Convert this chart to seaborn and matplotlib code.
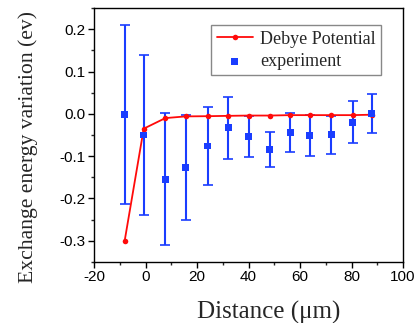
import matplotlib
matplotlib.use("Agg")
import matplotlib.pyplot as plt
import seaborn as sns
import pandas as pd
from matplotlib.ticker import MultipleLocator

distance = [-8.1, -0.7, 7.7, 15.6, 24.2, 32.1, 40.0, 48.2, 56.1, 63.8, 72.1, 80.4, 87.8]
debye = [-0.300, -0.035, -0.010, -0.006, -0.0055, -0.0047, -0.004, -0.004, -0.003, -0.003, -0.003, -0.003, -0.002]
experiment = [-0.002, -0.050, -0.155, -0.126, -0.076, -0.033, -0.054, -0.084, -0.045, -0.051, -0.049, -0.020, 0.001]
exp_err = [0.212, 0.188, 0.156, 0.124, 0.092, 0.073, 0.049, 0.042, 0.046, 0.049, 0.045, 0.050, 0.047]

df = pd.DataFrame({"distance": distance, "debye": debye,
                   "experiment": experiment, "err": exp_err})

sns.set_theme(style="white")
plt.rcParams['font.family'] = ['Liberation Sans', 'DejaVu Sans']

fig = plt.figure(figsize=(4.16, 3.23), dpi=100)
ax = fig.add_axes([0.226, 0.189, 0.743, 0.786])

red = "#ff0a0a"
blue = "#1a3dff"

ax.errorbar(df["distance"], df["experiment"], yerr=df["err"], fmt="none",
            ecolor=blue, elinewidth=1.5, capsize=3.6, capthick=1.2, zorder=2)
sns.lineplot(data=df, x="distance", y="debye", ax=ax, color=red, lw=1.3,
             marker="o", markersize=4, markeredgewidth=0, label="Debye Potential",
             zorder=3)
sns.scatterplot(data=df, x="distance", y="experiment", ax=ax, color=blue,
                marker="s", s=25, edgecolor="none", label="experiment", zorder=4)

ax.set_xlim(-20, 100)
ax.set_ylim(-0.35, 0.25)
ax.xaxis.set_minor_locator(MultipleLocator(10))
ax.yaxis.set_minor_locator(MultipleLocator(0.05))
ax.set_yticks([-0.3, -0.2, -0.1, 0.0, 0.1, 0.2])
ax.set_yticklabels(["-0.3", "-0.2", "-0.1", "0.0", "0.1", "0.2"])
ax.set_xticks([-20, 0, 20, 40, 60, 80, 100])
ax.set_xticklabels(["-20", "0", "20", "40", "60", "80", "100"])
ax.tick_params(which="major", direction="out", length=4, width=1, labelsize=11,
               colors="black", bottom=True, left=True, top=False, right=False, pad=2)
ax.tick_params(which="minor", direction="out", length=2.5, width=1,
               bottom=True, left=True, top=False, right=False)
for sp in ax.spines.values():
    sp.set_color("black")
    sp.set_linewidth(1.0)

ax.set_xlabel("Distance (μm)", fontsize=18, family=["Liberation Serif", "DejaVu Serif"])
ax.xaxis.set_label_coords(0.566, -0.152)
ax.set_ylabel("Exchange energy variation (ev)", fontsize=15.6,
              family=["Liberation Serif", "DejaVu Serif"])
ax.yaxis.set_label_coords(-0.181, 0.453)

leg = ax.legend(loc="upper right", bbox_to_anchor=(0.929, 0.933), frameon=True,
                fancybox=False, edgecolor="#888888", framealpha=1,
                prop={"family": "Liberation Serif", "size": 13},
                handlelength=2.0, borderpad=0.3, labelspacing=0.3,
                handletextpad=0.4, borderaxespad=0)
leg.get_frame().set_linewidth(1.0)

fig.savefig("out.png", dpi=100)
